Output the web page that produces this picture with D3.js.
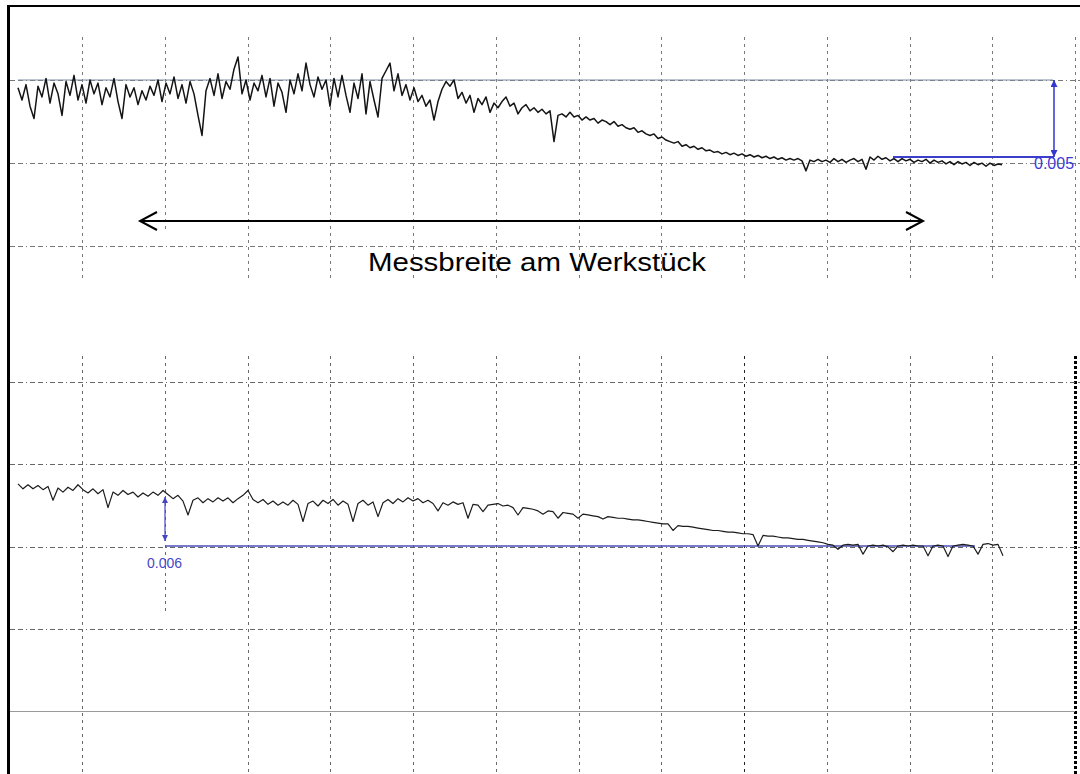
<!DOCTYPE html>
<html><head><meta charset="utf-8">
<script src="https://cdn.jsdelivr.net/npm/d3@7"></script>
<style>html,body{margin:0;padding:0;background:#fff;} svg{display:block;}</style>
</head><body><svg id="chart" width="1080" height="774"></svg>
<script>
// ---------- data (profile heights in µm) ----------
const topProfile = [
4.5,3.7,4.7,3.3,2.5,4.6,3.9,5.1,3.5,4.8,
4.1,2.7,4.9,4.0,5.3,3.7,4.7,3.5,5.0,4.1,
4.8,3.4,4.5,3.9,5.1,3.6,2.5,4.7,3.9,4.5,
3.4,4.3,3.7,4.6,4.0,5.0,3.6,4.8,4.1,5.2,
3.8,4.7,3.5,4.9,4.1,2.7,1.4,4.3,5.1,4.0,
5.4,3.8,4.9,4.4,5.7,6.5,4.1,5.0,3.7,4.8,
4.3,5.3,3.9,5.1,3.3,4.8,4.2,2.9,5.0,4.1,
5.4,4.3,6.1,4.7,3.9,5.2,4.4,5.0,3.3,5.1,
3.9,5.3,4.0,2.9,4.8,3.8,5.4,2.8,4.9,3.7,
2.6,5.1,5.6,6.1,4.3,5.4,4.0,4.7,3.7,4.5,
3.6,4.0,3.3,3.7,2.4,3.6,4.4,4.9,4.6,5.0,
3.8,4.2,3.5,4.0,2.9,3.8,3.4,3.9,2.9,3.5,
3.2,3.6,3.9,3.3,3.5,2.8,3.2,3.4,3.0,3.2,
2.9,3.1,2.8,3.0,1.0,2.7,
2.8,2.6,2.9,2.6,2.7,2.4,2.6,2.4,2.5,2.2,
2.4,2.3,2.1,2.3,2.0,2.1,1.9,1.8,1.9,1.6,
1.7,1.5,1.4,1.5,1.2,1.3,1.1,1.0,0.9,1.0,
0.7,0.8,0.6,0.7,0.5,0.6,0.4,0.45,0.3,0.35,
0.2,0.3,0.15,0.25,0.1,0.2,0.05,0.15,0.0,0.1,
-0.05,0.05,-0.1,0.0,-0.15,-0.05,-0.2,-0.1,-0.2,-0.1,
-0.25,-0.9,-0.2,-0.3,-0.15,-0.3,-0.2,-0.35,
-0.1,-0.3,-0.15,-0.35,-0.2,-0.1,-0.3,-0.15,-0.8,0.0,
-0.2,0.05,-0.15,-0.05,-0.25,-0.1,-0.3,-0.1,-0.25,-0.15,
-0.35,-0.2,-0.3,-0.15,-0.4,-0.2,-0.35,-0.25,-0.45,-0.3,
-0.5,-0.3,-0.45,-0.35,-0.55,-0.35,-0.5,-0.4,-0.6,-0.4,
-0.55,-0.45,-0.5
];
const bottomProfile = [
7.6,7.0,7.5,7.0,7.4,6.9,7.3,5.6,7.1,6.6,
7.2,6.8,7.5,6.9,6.5,7.0,6.4,6.9,4.7,6.6,
6.2,6.8,6.3,6.6,6.0,6.5,6.1,6.6,6.2,6.8,
6.3,5.8,6.2,5.5,3.8,5.6,5.9,5.3,5.8,5.4,
5.9,5.5,5.9,5.3,5.8,6.2,6.8,5.7,5.3,5.7,
5.1,5.5,5.0,5.4,5.0,5.6,5.1,3.0,5.2,5.5,
4.9,5.6,5.2,5.7,5.0,5.5,5.1,3.0,5.2,5.6,
5.0,5.4,3.6,5.3,5.7,5.2,5.8,5.4,5.9,5.5,
5.8,5.3,5.6,5.2,4.3,5.3,5.0,5.4,5.1,5.3,
3.4,5.1,5.0,4.2,5.0,5.1,5.2,4.9,5.0,4.7,
3.8,4.7,4.6,4.5,4.3,3.9,4.3,4.2,3.4,4.1,
4.0,3.9,3.4,3.9,3.8,3.7,3.6,3.3,3.6,3.5,
3.4,3.4,3.3,3.2,3.2,3.1,3.0,2.9,2.8,2.7,
2.7,1.9,2.5,2.4,2.4,2.3,2.2,2.1,2.0,1.9,
1.9,1.8,1.7,1.7,1.6,1.5,1.5,1.4,0.0,1.3,
1.2,1.2,1.1,1.0,1.0,0.9,0.8,0.8,0.7,0.6,
0.5,0.4,0.2,0.1,-0.4,0.1,0.2,0.1,0.2,-1.0,
0.0,0.1,0.0,0.1,-0.1,-0.7,0.0,0.1,0.0,0.1,
0.0,0.0,-1.2,0.0,0.1,0.0,-1.3,0.0,0.1,0.2,
0.1,0.0,-1.0,0.2,0.3,0.1,0.2,-1.2
];
const topStep = 5;          // µm, measured step in the upper profile
const bottomStep = 6;       // µm, measured step in the lower profile
const topStepLabel = "0.005";
const bottomStepLabel = "0.006";
const caption = "Messbreite am Werkstück";
const gridColumns = d3.range(13);
const topGridRows = d3.range(3);
const bottomGridRows = d3.range(5);

// ---------- scales ----------
const svg = d3.select("#chart");
const gx = d3.scaleLinear().domain([0, 12]).range([82, 1075]);
const gyTop = d3.scaleLinear().domain([0, 2]).range([80, 246]);
const gyBot = d3.scaleLinear().domain([0, 4]).range([382, 711]);
const xTop = d3.scaleLinear().domain([0, topProfile.length - 1]).range([18, 1002]);
const xBot = d3.scaleLinear().domain([0, bottomProfile.length - 1]).range([18, 1003]);
const yTop = d3.scaleLinear().domain([0, topStep]).range([157, 80]);
const yBot = d3.scaleLinear().domain([0, bottomStep]).range([546, 497]);

const grid = svg.append("g").attr("shape-rendering", "crispEdges");

// top panel grid
grid.selectAll(".vt").data(gridColumns).join("line")
  .attr("x1", d => Math.round(gx(d)) + 0.5).attr("x2", d => Math.round(gx(d)) + 0.5)
  .attr("y1", 37).attr("y2", d => d === 1 ? 232 : 282)
  .attr("stroke", "#7a7a7a").attr("stroke-width", 1).attr("stroke-dasharray", "3,4");
grid.selectAll(".ht").data(topGridRows).join("line")
  .attr("x1", 10).attr("x2", 1080)
  .attr("y1", d => Math.round(gyTop(d)) + 0.5).attr("y2", d => Math.round(gyTop(d)) + 0.5)
  .attr("stroke", "#777").attr("stroke-width", 1).attr("stroke-dasharray", "5,3,5,3,1,3");

// bottom panel grid
grid.selectAll(".vb").data(gridColumns).join("line")
  .attr("x1", d => Math.round(gx(d)) + 0.5).attr("x2", d => Math.round(gx(d)) + 0.5)
  .attr("y1", 356).attr("y2", d => d === 1 ? 612 : 774)
  .attr("stroke", d => d === 12 ? "#000" : (d === 8 ? "#222" : "#6a6a6a"))
  .attr("stroke-width", d => d === 12 ? 3 : (d === 8 ? 1.5 : 1))
  .attr("stroke-dasharray", d => d === 12 ? "3,2" : "3,4");
grid.selectAll(".hb").data(bottomGridRows).join("line")
  .attr("x1", 10).attr("x2", d => d === 4 ? 1075 : 1080)
  .attr("y1", d => Math.round(gyBot(d)) + 0.5).attr("y2", d => Math.round(gyBot(d)) + 0.5)
  .attr("stroke", d => d === 4 ? "#9a9a9a" : "#666").attr("stroke-width", 1)
  .attr("stroke-dasharray", d => d === 4 ? null : "5,3,5,3,1,3");

// frame
svg.append("line").attr("x1", 7).attr("x2", 1080).attr("y1", 6).attr("y2", 6)
  .attr("stroke", "#000").attr("stroke-width", 2);
svg.append("line").attr("x1", 8.5).attr("x2", 8.5).attr("y1", 5).attr("y2", 774)
  .attr("stroke", "#000").attr("stroke-width", 3);

// markers
const defs = svg.append("defs");
function mk(id, color, w, h) {
  defs.append("marker").attr("id", id).attr("viewBox", "0 0 10 10")
    .attr("refX", 10).attr("refY", 5).attr("markerUnits", "userSpaceOnUse")
    .attr("markerWidth", w).attr("markerHeight", h).attr("orient", "auto-start-reverse")
    .append("path").attr("d", "M0,0 L10,5 L0,10 Z").attr("fill", color);
}
mk("arTop", "#3535d0", 14, 7);
mk("arBot", "#4545c6", 11, 6);

// upper reference line (top of step)
svg.append("line").attr("x1", 18).attr("x2", 1053)
  .attr("y1", yTop(topStep)).attr("y2", yTop(topStep))
  .attr("stroke", "#7d8ba0").attr("stroke-width", 1);

const lineTop = d3.line().x((d, i) => xTop(i)).y(d => yTop(d));
const lineBot = d3.line().x((d, i) => xBot(i)).y(d => yBot(d));

// lower reference (blue) under the lower profile
svg.append("line").attr("x1", 165).attr("x2", 975)
  .attr("y1", yBot(0)).attr("y2", yBot(0))
  .attr("stroke", "#4e4eb8").attr("stroke-width", 1.6);

// profiles
svg.append("path").datum(topProfile).attr("d", lineTop)
  .attr("fill", "none").attr("stroke", "#141414").attr("stroke-width", 1.5)
  .attr("stroke-linejoin", "round");
svg.append("path").datum(bottomProfile).attr("d", lineBot)
  .attr("fill", "none").attr("stroke", "#1c1c1c").attr("stroke-width", 1.2)
  .attr("stroke-linejoin", "round");

// top step measurement
svg.append("line").attr("x1", 893).attr("x2", 1054)
  .attr("y1", yTop(0)).attr("y2", yTop(0))
  .attr("stroke", "#3d3dcc").attr("stroke-width", 2);
svg.append("line").attr("x1", 1054).attr("x2", 1054)
  .attr("y1", yTop(topStep)).attr("y2", yTop(0))
  .attr("stroke", "#3535d0").attr("stroke-width", 1.5)
  .attr("marker-start", "url(#arTop)").attr("marker-end", "url(#arTop)");
svg.append("text").attr("x", 1034).attr("y", 169)
  .attr("font-family", "Arial, 'Liberation Sans', sans-serif").attr("font-size", 16)
  .attr("fill", "#3a3ad6").text(topStepLabel);

// bottom step measurement
svg.append("line").attr("x1", 165).attr("x2", 165)
  .attr("y1", yBot(bottomStep)).attr("y2", yBot(0) - 5)
  .attr("stroke", "#4545c6").attr("stroke-width", 1.2)
  .attr("marker-start", "url(#arBot)").attr("marker-end", "url(#arBot)");
svg.append("text").attr("x", 147).attr("y", 568)
  .attr("font-family", "Arial, 'Liberation Sans', sans-serif").attr("font-size", 14)
  .attr("fill", "#4848c8").text(bottomStepLabel);

// measuring-width double arrow
const ay = 221, ax1 = 140, ax2 = 923;
svg.append("line").attr("x1", ax1).attr("x2", ax2).attr("y1", ay).attr("y2", ay)
  .attr("stroke", "#000").attr("stroke-width", 2);
svg.append("path").attr("d", `M${ax1 + 17},${ay - 9} L${ax1},${ay} L${ax1 + 17},${ay + 9}`)
  .attr("fill", "none").attr("stroke", "#000").attr("stroke-width", 2);
svg.append("path").attr("d", `M${ax2 - 17},${ay - 9} L${ax2},${ay} L${ax2 - 17},${ay + 9}`)
  .attr("fill", "none").attr("stroke", "#000").attr("stroke-width", 2);
svg.append("text").attr("x", 368).attr("y", 271)
  .attr("font-family", "Arial, 'Liberation Sans', sans-serif").attr("font-size", 26)
  .attr("textLength", 338).attr("lengthAdjust", "spacingAndGlyphs")
  .attr("fill", "#000").text(caption);
</script></body></html>
